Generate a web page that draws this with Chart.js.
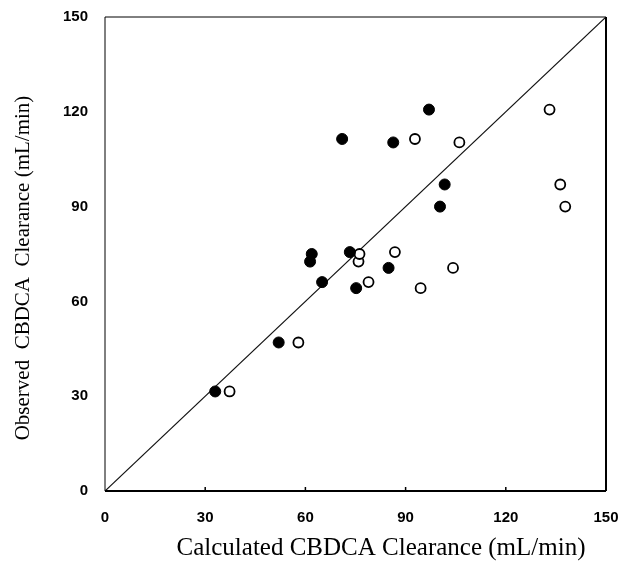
<!DOCTYPE html>
<html>
<head>
<meta charset="utf-8">
<script src="https://cdn.jsdelivr.net/npm/chart.js@4.4.1/dist/chart.umd.min.js"></script>
<style>
  html, body { margin: 0; padding: 0; background: #fff; }
  #wrap { width: 622px; height: 574px; }
</style>
</head>
<body>
<div id="wrap"><canvas id="c" width="622" height="574"></canvas></div>
<script>
// Observed CBDCA clearance (mL/min) for each patient
const observed = [31.5, 47.0, 72.6, 75.0, 66.1, 111.4, 75.6, 64.2, 70.6, 110.3, 120.7, 90.0, 97.0];
// Calculated clearance, method A (filled circles)
const calculatedFilled = [33.0, 52.0, 61.4, 61.9, 65.0, 71.0, 73.3, 75.2, 84.9, 86.3, 97.0, 100.3, 101.7];
// Calculated clearance, method B (open circles)
const calculatedOpen = [37.3, 57.9, 75.9, 76.2, 78.9, 92.8, 86.8, 94.5, 104.2, 106.1, 133.1, 137.8, 136.3];
// Identity line
const identityLine = [0, 150];
const tickValues = [0, 30, 60, 90, 120, 150];
const xTitle = 'Calculated CBDCA Clearance (mL/min)';
const yTitle = 'Observed  CBDCA  Clearance (mL/min)';

const filledPts = calculatedFilled.map((x, i) => ({ x: x, y: observed[i] }));
const openPts = calculatedOpen.map((x, i) => ({ x: x, y: observed[i] }));
const linePts = identityLine.map(v => ({ x: v, y: v }));

const framePlugin = {
  id: 'frame',
  afterDatasetsDraw(chart) {
    const { ctx, chartArea: a } = chart;
    ctx.save();
    ctx.strokeStyle = '#000';
    ctx.lineWidth = 1;
    ctx.beginPath();
    ctx.moveTo(a.left, a.top); ctx.lineTo(a.right, a.top);
    ctx.moveTo(a.left, a.top); ctx.lineTo(a.left, a.bottom);
    ctx.stroke();
    ctx.lineWidth = 2;
    ctx.beginPath();
    ctx.moveTo(a.left, a.bottom); ctx.lineTo(a.right, a.bottom);
    ctx.moveTo(a.right, a.top); ctx.lineTo(a.right, a.bottom);
    ctx.stroke();
    // small inward tick marks on x axis
    const xs = chart.scales.x;
    ctx.lineWidth = 1.5;
    ctx.beginPath();
    tickValues.slice(1, -1).forEach(v => {
      const px = xs.getPixelForValue(v);
      ctx.moveTo(px, a.bottom); ctx.lineTo(px, a.bottom - 4);
    });
    ctx.stroke();

    // axis titles (real text)
    ctx.fillStyle = '#000';
    ctx.textAlign = 'center';
    ctx.textBaseline = 'middle';
    ctx.font = '25px "Liberation Serif", "Times New Roman", serif';
    ctx.fillText(xTitle, 381, 548);
    ctx.translate(23, 268);
    ctx.rotate(-Math.PI / 2);
    ctx.font = '21px "Liberation Serif", "Times New Roman", serif';
    ctx.fillText(yTitle, 0, 0);
    ctx.restore();
  }
};

new Chart(document.getElementById('c'), {
  type: 'scatter',
  data: {
    datasets: [
      {
        type: 'line',
        data: linePts,
        borderColor: '#111',
        borderWidth: 1.2,
        pointRadius: 0,
        fill: false,
        order: 3
      },
      {
        data: openPts,
        pointStyle: 'circle',
        pointRadius: 5,
        pointBackgroundColor: '#fff',
        pointBorderColor: '#000',
        pointBorderWidth: 1.8,
        order: 2
      },
      {
        data: filledPts,
        pointStyle: 'circle',
        pointRadius: 5.5,
        pointBackgroundColor: '#000',
        pointBorderColor: '#000',
        pointBorderWidth: 1,
        order: 1
      }
    ]
  },
  options: {
    responsive: false,
    animation: false,
    devicePixelRatio: 1,
    layout: { padding: { top: 17, right: 16, left: 0, bottom: 0 } },
    plugins: { legend: { display: false }, tooltip: { enabled: false } },
    scales: {
      x: {
        type: 'linear',
        min: 0, max: 150,
        afterBuildTicks(scale) { scale.ticks = tickValues.map(v => ({ value: v })); },
        afterFit(scale) {
          scale.height = 574 - 491;
          scale.paddingLeft = 0; scale.paddingRight = 0;
        },
        grid: { display: false, drawTicks: false },
        border: { display: false },
        ticks: {
          padding: 18,
          color: '#000',
          font: { family: '"Liberation Sans", Arial, sans-serif', size: 15, weight: 'bold' }
        },
        title: { display: false, text: xTitle }
      },
      y: {
        type: 'linear',
        min: 0, max: 150,
        afterBuildTicks(scale) { scale.ticks = tickValues.map(v => ({ value: v })); },
        afterFit(scale) {
          scale.width = 105;
          scale.paddingTop = 0; scale.paddingBottom = 0;
        },
        grid: { display: false, drawTicks: false },
        border: { display: false },
        ticks: {
          padding: 17,
          color: '#000',
          font: { family: '"Liberation Sans", Arial, sans-serif', size: 15, weight: 'bold' }
        },
        title: { display: false, text: yTitle }
      }
    }
  },
  plugins: [framePlugin]
});
</script>
</body>
</html>
